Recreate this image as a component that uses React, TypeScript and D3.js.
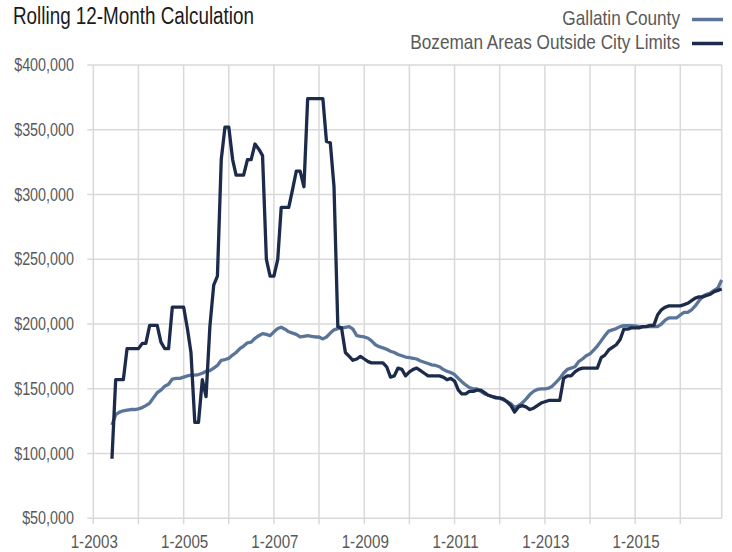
import * as d3 from 'd3';

// rolling 12-month values, in thousands of dollars, monthly from 6-2003 to 12-2016
const startMonth = new Date(2003, 5, 1);

const gallatinCounty = [
  122, 130, 132, 133, 133.5,
  134, 134, 134.5, 135.5, 137,
  139, 143, 147, 149, 152,
  153.5, 157.5, 158, 158, 159,
  160, 160.5, 160.5, 161, 162,
  163.5, 164, 166, 168, 172,
  172.6, 173.5, 176, 178, 181,
  183, 185.5, 186, 189, 191,
  192.6, 192, 191, 194, 196.5,
  197.5, 196, 194, 193, 192,
  190, 190.5, 191, 190.5, 190,
  190, 188.5, 190, 193, 195.5,
  196.5, 197, 197.5, 198, 196,
  191, 190.5, 190, 189, 187,
  184, 182.5, 181.6, 180.5, 179,
  178, 176.5, 175.5, 174.5, 174,
  173.5, 173, 171.5, 170.5, 169.5,
  168.5, 168, 167, 165, 163.5,
  162.5, 161, 158, 155.5, 153,
  151, 150, 150, 148, 146,
  145, 144, 143.5, 142.5, 141.5,
  140, 138.5, 135.5, 137, 139,
  142, 145.5, 148, 149.5, 150,
  150, 150.5, 152, 155, 158,
  162, 165, 166, 167, 171,
  173, 175.5, 177, 180, 183,
  187, 191, 194.5, 195.5, 196.5,
  198, 198.8, 198.8, 198.8, 198.5,
  198, 197.8, 198, 198.2, 198,
  198, 200, 203, 204.7, 204.7,
  204.7, 207, 209, 209, 211,
  214, 218, 221.4, 223, 224,
  226, 228, 234,
];

const bozemanOutside = [
  96, 157, 157, 157, 181,
  181, 181, 181, 185, 185,
  199, 199, 199, 186, 181,
  181, 213, 213, 213, 213,
  196, 178, 124, 124, 157,
  144, 198, 230, 237, 327,
  352, 352, 327, 315, 315,
  315, 327, 327, 339, 335,
  330, 250, 237, 237, 250,
  290, 290, 290, 304, 318,
  318, 306, 374, 374, 374,
  374, 374, 341, 340, 306,
  198, 197, 178, 175, 172,
  173, 175, 173, 171, 170,
  170, 170, 170, 167, 159,
  160, 166, 165, 160, 163,
  165, 166, 164, 162, 160,
  160, 160, 160, 159, 157,
  158, 156, 149, 146, 146,
  148, 148, 149, 149, 147,
  145, 144, 143, 143, 142,
  140, 137, 132, 136, 137,
  136, 134, 135, 137, 139,
  140, 141, 141, 141, 141,
  158, 160, 160, 163, 165,
  166, 166, 166, 166, 166,
  174, 176, 180, 182, 184,
  188, 196, 196, 197, 197,
  197, 198, 198, 199, 199,
  207, 211, 213, 214, 214,
  214, 214, 215, 216, 218,
  220, 221, 221, 222, 223,
  225, 226, 227,
];

const seriesNames = ['Gallatin County', 'Bozeman Areas Outside City Limits'];
const seriesColors = ['#5a7599', '#1c2b4c'];
const yTicks = [50000, 100000, 150000, 200000, 250000, 300000, 350000, 400000];
const gridYears = d3.range(2003, 2017);
const labelYears = [2003, 2005, 2007, 2009, 2011, 2013, 2015];

const FONT = '"Liberation Sans", Arial, sans-serif';
const NARROW = 0.82;

// condensed text: Liberation Sans squeezed horizontally to look like Arial Narrow
function NarrowText({
  x,
  y,
  size,
  fill,
  anchor = 'start',
  middle = false,
  children,
}: {
  x: number;
  y: number;
  size: number;
  fill: string;
  anchor?: 'start' | 'middle' | 'end';
  middle?: boolean;
  children: string;
}) {
  return (
    <g transform={`translate(${x},${y}) scale(${NARROW},1)`}>
      <text fontSize={size} fill={fill} textAnchor={anchor} dy={middle ? '0.35em' : undefined}>
        {children}
      </text>
    </g>
  );
}

export default function App() {
  const width = 732;
  const height = 552;
  const left = 93.3;
  const right = 721.7;
  const top = 65;
  const bottom = 518.3;

  const toPoints = (vals: number[]) =>
    vals.map((v, i) => ({ date: d3.timeMonth.offset(startMonth, i), value: v * 1000 }));
  const series = [toPoints(gallatinCounty), toPoints(bozemanOutside)];

  const x = d3
    .scaleTime()
    .domain([new Date(2003, 0, 1), new Date(2016, 11, 1)])
    .range([left, right]);
  const y = d3.scaleLinear().domain([50000, 400000]).range([bottom, top]);

  const line = d3
    .line<{ date: Date; value: number }>()
    .x((d) => x(d.date))
    .y((d) => y(d.value));

  const fmt = d3.format('$,');

  return (
    <svg
      width={width}
      height={height}
      style={{ position: 'absolute', left: 0, top: 0, background: '#fff' }}
      fontFamily={FONT}
    >
      <NarrowText x={13} y={24} size={23} fill="#1a1a1a">
        Rolling 12-Month Calculation
      </NarrowText>

      {seriesNames.map((name, i) => (
        <g key={name}>
          <NarrowText x={680} y={25 + i * 24} size={21} fill="#595959" anchor="end">
            {name}
          </NarrowText>
          <line
            x1={692}
            x2={723}
            y1={19.5 + i * 24}
            y2={19.5 + i * 24}
            stroke={seriesColors[i]}
            strokeWidth={3.5}
          />
        </g>
      ))}

      {/* horizontal gridlines with short ticks on the left */}
      {yTicks.map((t) => (
        <g key={t}>
          <line x1={left - 6} x2={right} y1={y(t)} y2={y(t)} stroke="#d9d9d9" strokeWidth={1.5} />
          <NarrowText x={74} y={y(t)} size={17.5} fill="#595959" anchor="end" middle>
            {fmt(t)}
          </NarrowText>
        </g>
      ))}

      {/* vertical gridlines, one per year, with ticks below */}
      {gridYears.map((yr) => {
        const gx = x(new Date(yr, 0, 1));
        return (
          <line key={yr} x1={gx} x2={gx} y1={top} y2={bottom + 6} stroke="#d9d9d9" strokeWidth={1.5} />
        );
      })}
      <line x1={right} x2={right} y1={top} y2={bottom} stroke="#d9d9d9" strokeWidth={1.5} />

      {labelYears.map((yr) => (
        <NarrowText
          key={yr}
          x={x(new Date(yr, 0, 1)) + 1}
          y={548}
          size={18.5}
          fill="#595959"
          anchor="middle"
        >
          {`1-${yr}`}
        </NarrowText>
      ))}

      {series.map((pts, i) => (
        <path
          key={seriesNames[i]}
          d={line(pts) ?? ''}
          fill="none"
          stroke={seriesColors[i]}
          strokeWidth={3.3}
          strokeLinejoin="round"
        />
      ))}
    </svg>
  );
}
